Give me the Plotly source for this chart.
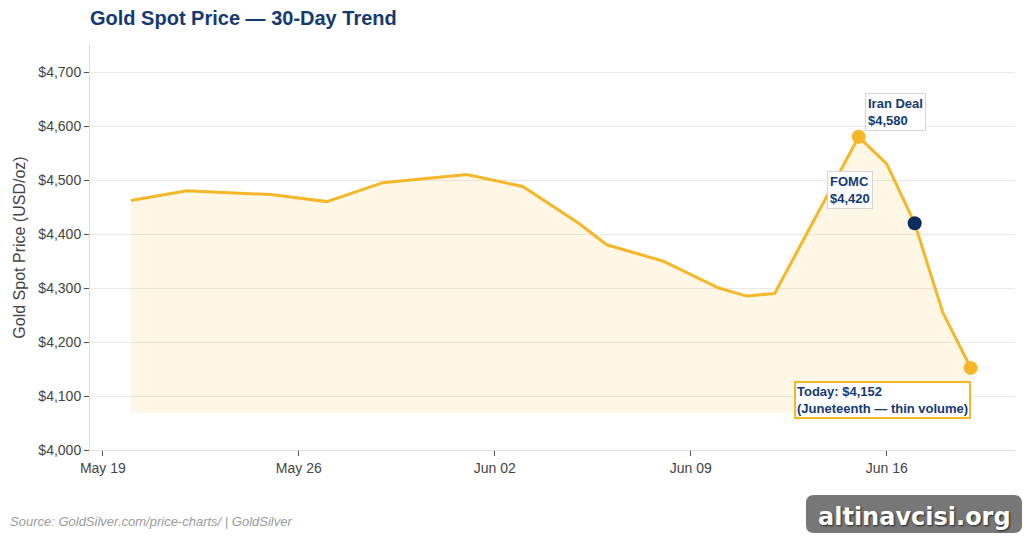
import plotly.graph_objects as go

# ---- data ----
dates = ["2026-05-20", "2026-05-22", "2026-05-25", "2026-05-27", "2026-05-29",
         "2026-06-01", "2026-06-03", "2026-06-05", "2026-06-06", "2026-06-08",
         "2026-06-10", "2026-06-11", "2026-06-12", "2026-06-15", "2026-06-16",
         "2026-06-17", "2026-06-18", "2026-06-19"]
prices = [4462, 4480, 4473, 4460, 4495, 4510, 4488, 4420, 4380, 4350,
          4300, 4285, 4290, 4580, 4530, 4420, 4255, 4152]

iran_date, iran_price = "2026-06-15", 4580
fomc_date, fomc_price = "2026-06-17", 4420
today_date, today_price = "2026-06-19", 4152

baseline = round(min(prices) * 0.98)

y_ticks = [4000, 4100, 4200, 4300, 4400, 4500, 4600, 4700]

GOLD = "#F5B728"
NAVY = "#143A73"
DARK_NAVY = "#0C2B5E"
FONT = "Liberation Sans, Arial, sans-serif"

fig = go.Figure()

fig.add_trace(go.Scatter(x=dates, y=[baseline] * len(dates), mode="lines",
                         line=dict(width=0, color="rgba(0,0,0,0)"),
                         hoverinfo="skip", showlegend=False))
fig.add_trace(go.Scatter(x=dates, y=prices, mode="lines",
                         line=dict(color=GOLD, width=3),
                         fill="tonexty", fillcolor="rgba(245,190,50,0.12)",
                         showlegend=False))
fig.add_trace(go.Scatter(x=[iran_date, today_date], y=[iran_price, today_price],
                         mode="markers", marker=dict(color=GOLD, size=14),
                         showlegend=False))
fig.add_trace(go.Scatter(x=[fomc_date], y=[fomc_price], mode="markers",
                         marker=dict(color=DARK_NAVY, size=14), showlegend=False))

fig.add_annotation(x=iran_date, y=iran_price, text="Iran Deal<br>$4,580",
                   showarrow=False, xanchor="left", yanchor="bottom",
                   xshift=6, yshift=6, align="left",
                   font=dict(family=FONT, size=13, color=NAVY, weight="bold"),
                   bgcolor="white", bordercolor="#D5D5D5", borderwidth=1, borderpad=2)
fig.add_annotation(x=fomc_date, y=fomc_price, text="FOMC<br>$4,420",
                   showarrow=False, xanchor="right", yanchor="bottom",
                   xshift=-42, yshift=14, align="left",
                   font=dict(family=FONT, size=13, color=NAVY, weight="bold"),
                   bgcolor="white", bordercolor="#D5D5D5", borderwidth=1, borderpad=2)
fig.add_annotation(x=today_date, y=today_price,
                   text="Today: $4,152<br>(Juneteenth — thin volume)",
                   showarrow=False, xanchor="right", yanchor="top",
                   xshift=0, yshift=-13, align="left",
                   font=dict(family=FONT, size=13, color=NAVY, weight="bold"),
                   bgcolor="white", bordercolor=GOLD, borderwidth=2, borderpad=1)

# source text
fig.add_annotation(xref="paper", yref="paper", x=-82 / 925, y=-(521 - 450) / 405,
                   text="Source: GoldSilver.com/price-charts/ | GoldSilver",
                   showarrow=False, xanchor="left", yanchor="middle",
                   font=dict(family=FONT, size=13, color="#9A9A9A", style="italic"))

# watermark
x0 = (806 - 90) / 925
x1 = (1022 - 90) / 925
y0 = (450 - 533) / 405
y1 = (450 - 495) / 405
rx = 8 / 925
ry = 8 / 405
path = (f"M {x0+rx},{y1} L {x1-rx},{y1} Q {x1},{y1} {x1},{y1-ry} "
        f"L {x1},{y0+ry} Q {x1},{y0} {x1-rx},{y0} L {x0+rx},{y0} "
        f"Q {x0},{y0} {x0},{y0+ry} L {x0},{y1-ry} Q {x0},{y1} {x0+rx},{y1} Z")
fig.add_shape(type="path", path=path, xref="paper", yref="paper",
              fillcolor="#777777", line=dict(width=0), layer="above")
fig.add_annotation(xref="paper", yref="paper", x=(x0 + x1) / 2,
                   y=(y0 + y1) / 2 - 3 / 405,
                   text="altinavcisi.org", showarrow=False,
                   xanchor="center", yanchor="middle",
                   font=dict(family="DejaVu Sans", size=24, color="white",
                             weight="bold", shadow="1px 1px 2px #222"))

fig.update_layout(
    width=1024, height=539,
    margin=dict(l=90, r=9, t=45, b=89),
    paper_bgcolor="white", plot_bgcolor="white",
    font=dict(family=FONT, size=14, color="#444"),
    title=dict(text="<b>Gold Spot Price — 30-Day Trend</b>",
               x=90 / 1024, xanchor="left", y=1 - 18 / 539, yanchor="middle",
               font=dict(family=FONT, size=20, color=NAVY)),
    showlegend=False,
    hovermode="closest",
)
fig.update_xaxes(range=["2026-05-18 13:00", "2026-06-20 14:00"],
                 tick0="2026-05-19", dtick=7 * 86400000, tickformat="%b %d",
                 showgrid=False, showline=True, linecolor="#DDDDDD", linewidth=1,
                 ticks="outside", ticklen=5, tickcolor="#555",
                 tickfont=dict(size=14, color="#444"), zeroline=False)
fig.update_yaxes(range=[4000, 4750], tickvals=y_ticks,
                 ticktext=[f"${v:,}" for v in y_ticks],
                 showgrid=True, gridcolor="#E9E9E9", showline=True,
                 linecolor="#DDDDDD", linewidth=1,
                 ticks="outside", ticklen=5, tickcolor="#555",
                 tickfont=dict(size=14, color="#444"), zeroline=False,
                 title=dict(text="Gold Spot Price (USD/oz)",
                            font=dict(size=16, color="#444"), standoff=8))

fig.write_html("out.html")
